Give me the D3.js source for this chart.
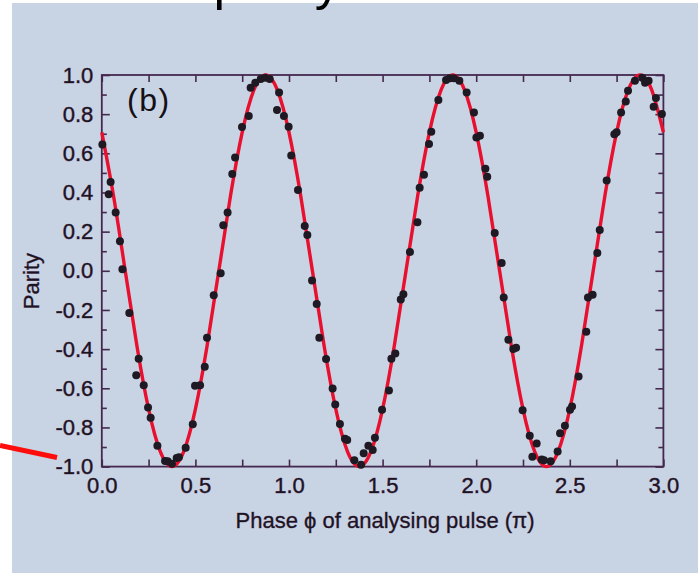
<!DOCTYPE html>
<html>
<head>
<meta charset="utf-8">
<script src="https://cdn.jsdelivr.net/npm/d3@7"></script>
<style>
  html, body { margin: 0; padding: 0; background: #ffffff; }
  svg { display: block; }
  text { font-family: "Liberation Sans", Arial, Helvetica, sans-serif; }
</style>
</head>
<body>
<svg id="chart" width="698" height="573"></svg>
<script>
// Axis ticks
const phaseTicks = [0, 0.25, 0.5, 0.75, 1, 1.25, 1.5, 1.75, 2, 2.25, 2.5, 2.75, 3];
const phaseLabelled = [0, 0.5, 1, 1.5, 2, 2.5, 3];
const parityTicks = [-1, -0.9, -0.8, -0.7, -0.6, -0.5, -0.4, -0.3, -0.2, -0.1, 0,
                     0.1, 0.2, 0.3, 0.4, 0.5, 0.6, 0.7, 0.8, 0.9, 1];
const parityLabelled = [-1, -0.8, -0.6, -0.4, -0.2, 0, 0.2, 0.4, 0.6, 0.8, 1];

// Measured parity vs. analysing-pulse phase (units of pi)
const measuredPhase = [
  0.003, 0.037, 0.047, 0.074, 0.097, 0.110, 0.147, 0.184, 0.197, 0.224,
  0.247, 0.261, 0.297, 0.338, 0.352, 0.375, 0.400, 0.412, 0.448, 0.486,
  0.498, 0.525, 0.550, 0.562, 0.598, 0.635, 0.649, 0.672, 0.697, 0.712,
  0.749, 0.785, 0.795, 0.820, 0.849, 0.872, 0.897, 0.936, 0.947, 0.973,
  0.998, 1.012, 1.048, 1.084, 1.098, 1.123, 1.148, 1.162, 1.198, 1.233,
  1.247, 1.272, 1.299, 1.311, 1.349, 1.385, 1.399, 1.424, 1.447, 1.459,
  1.497, 1.534, 1.547, 1.568, 1.597, 1.611, 1.646, 1.686, 1.698, 1.721,
  1.748, 1.760, 1.798, 1.839, 1.860, 1.881, 1.910, 1.949, 1.988, 2.001,
  2.020, 2.049, 2.059, 2.099, 2.136, 2.147, 2.172, 2.198, 2.213, 2.248,
  2.286, 2.300, 2.323, 2.350, 2.362, 2.398, 2.435, 2.448, 2.474, 2.501,
  2.512, 2.547, 2.588, 2.597, 2.622, 2.647, 2.660, 2.697, 2.738, 2.750,
  2.774, 2.799, 2.811, 2.848, 2.887, 2.902, 2.921, 2.948, 2.960, 2.992
];
const measuredParity = [
  0.645, 0.391, 0.454, 0.298, 0.151, 0.008, -0.216, -0.533, -0.449, -0.584,
  -0.698, -0.751, -0.893, -0.971, -0.973, -0.985, -0.956, -0.952, -0.904, -0.784,
  -0.587, -0.584, -0.490, -0.342, -0.125, -0.013, 0.233, 0.298, 0.495, 0.579,
  0.734, 0.790, 0.935, 0.961, 0.980, 0.986, 0.980, 0.821, 0.911, 0.790,
  0.736, 0.589, 0.413, 0.229, 0.183, -0.050, -0.170, -0.342, -0.451, -0.601,
  -0.683, -0.782, -0.858, -0.864, -0.968, -0.990, -0.932, -0.893, -0.915, -0.853,
  -0.710, -0.611, -0.449, -0.422, -0.146, -0.120, 0.096, 0.248, 0.424, 0.490,
  0.647, 0.710, 0.872, 0.974, 0.983, 0.983, 0.971, 0.910, 0.809, 0.681,
  0.690, 0.521, 0.480, 0.193, 0.040, -0.136, -0.352, -0.400, -0.393, -0.712,
  -0.843, -0.950, -0.882, -0.964, -0.968, -0.973, -0.923, -0.830, -0.792, -0.710,
  -0.693, -0.540, -0.311, -0.136, -0.122, 0.091, 0.209, 0.461, 0.698, 0.707,
  0.809, 0.865, 0.920, 0.971, 0.986, 0.961, 0.971, 0.838, 0.882, 0.801
];

// Fitted fringe, sampled every 1/16 of a period
const fitPhase = [
  0, 0.0625, 0.125, 0.1875, 0.25, 0.3125, 0.375, 0.4375, 0.5, 0.5625, 0.625, 0.6875,
  0.75, 0.8125, 0.875, 0.9375, 1, 1.0625, 1.125, 1.1875, 1.25, 1.3125, 1.375, 1.4375,
  1.5, 1.5625, 1.625, 1.6875, 1.75, 1.8125, 1.875, 1.9375, 2, 2.0625, 2.125, 2.1875,
  2.25, 2.3125, 2.375, 2.4375, 2.5, 2.5625, 2.625, 2.6875, 2.75, 2.8125, 2.875, 2.9375, 3
];
const fitParity = [
  0.707, 0.383, 0, -0.383, -0.707, -0.924, -1, -0.924, -0.707, -0.383, 0, 0.383,
  0.707, 0.924, 1, 0.924, 0.707, 0.383, 0, -0.383, -0.707, -0.924, -1, -0.924,
  -0.707, -0.383, 0, 0.383, 0.707, 0.924, 1, 0.924, 0.707, 0.383, 0, -0.383,
  -0.707, -0.924, -1, -0.924, -0.707, -0.383, 0, 0.383, 0.707, 0.924, 1, 0.924, 0.707
];

const svg = d3.select("#chart");
const W = 698, H = 573;
const axisColor = "#45284f";
const inkColor = "#1b1420";
const haloColor = "#6b3f74";

const x = d3.scaleLinear().domain([0, 3]).range([101.8, 663.4]);
const y = d3.scaleLinear().domain([-1, 1]).range([466.6, 75]);

// Panel background
svg.append("rect").attr("x", 12).attr("y", 3).attr("width", W - 12).attr("height", H - 3)
  .attr("fill", "#c8d4e4");

// Heading running above the panel
svg.append("text").attr("x", 213.5).attr("y", -1)
  .attr("font-size", 52).attr("fill", "#000")
  .text("parity");

// Pointer line from the left
svg.append("line").attr("x1", 0).attr("y1", 445.5).attr("x2", 57).attr("y2", 457.5)
  .attr("stroke", "#ff0d0d").attr("stroke-width", 5);

const fmt = d => d.toFixed(1);
const isLabelledX = d => phaseLabelled.some(v => Math.abs(v - d) < 1e-9);
const isLabelledY = d => parityLabelled.some(v => Math.abs(v - d) < 1e-9);

function styleAxis(g) {
  g.select(".domain").remove();
  g.selectAll(".tick line").attr("stroke", axisColor).attr("stroke-width", 1.6);
  g.selectAll(".tick text").attr("fill", inkColor).attr("font-size", 22)
    .attr("font-family", "'Liberation Sans', Arial, sans-serif")
    .attr("stroke", haloColor).attr("stroke-width", 0.55)
    .attr("paint-order", "stroke");
}

// Bottom axis with labels, ticks pointing inward
svg.append("g").attr("transform", `translate(0,${y(-1)})`)
  .call(d3.axisBottom(x).tickValues(phaseTicks)
    .tickFormat(d => isLabelledX(d) ? fmt(d) : "")
    .tickSizeInner(-7).tickSizeOuter(0).tickPadding(10.5))
  .call(styleAxis);

// Top axis, ticks only
svg.append("g").attr("transform", `translate(0,${y(1)})`)
  .call(d3.axisTop(x).tickValues(phaseTicks).tickFormat("")
    .tickSizeInner(-7).tickSizeOuter(0))
  .call(styleAxis);

// Left axis with labels
const leftAxis = svg.append("g").attr("transform", `translate(${x(0)},0)`)
  .call(d3.axisLeft(y).tickValues(parityTicks)
    .tickFormat(d => isLabelledY(d) ? fmt(d) : "")
    .tickSizeInner(-7).tickSizeOuter(0).tickPadding(8.5))
  .call(styleAxis);
leftAxis.selectAll(".tick line").attr("x2", d => isLabelledY(d) ? 8 : 5);

// Right axis, ticks only
const rightAxis = svg.append("g").attr("transform", `translate(${x(3)},0)`)
  .call(d3.axisRight(y).tickValues(parityTicks).tickFormat("")
    .tickSizeInner(-7).tickSizeOuter(0))
  .call(styleAxis);
rightAxis.selectAll(".tick line").attr("x2", d => isLabelledY(d) ? -8 : -5);

// Frame
svg.append("rect")
  .attr("x", x(0)).attr("y", y(1))
  .attr("width", x(3) - x(0)).attr("height", y(-1) - y(1))
  .attr("fill", "none").attr("stroke", axisColor).attr("stroke-width", 1.8);

// Fitted curve
const fitLine = d3.line()
  .x((d, i) => x(fitPhase[i]))
  .y(d => y(d))
  .curve(d3.curveNatural);
svg.append("path").datum(fitParity)
  .attr("d", fitLine)
  .attr("fill", "none").attr("stroke", "#e8102e").attr("stroke-width", 3.4)
  .attr("stroke-linejoin", "round");

// Measured points
svg.append("g").selectAll("circle")
  .data(measuredPhase.map((p, i) => ({ p, v: measuredParity[i] })))
  .join("circle")
  .attr("cx", d => x(d.p)).attr("cy", d => y(d.v)).attr("r", 4)
  .attr("fill", "#1e1922");

// Panel label
svg.append("text").attr("x", 127).attr("y", 111)
  .attr("font-size", 32).attr("fill", "#161016").attr("letter-spacing", 1.5)
  .text("(b)");

// Axis titles
svg.append("text")
  .attr("x", (x(0) + x(3)) / 2 + 2.5).attr("y", 528)
  .attr("text-anchor", "middle").attr("font-size", 22).attr("fill", inkColor)
  .attr("stroke", haloColor).attr("stroke-width", 0.45).attr("paint-order", "stroke")
  .text("Phase \u03d5 of analysing pulse (\u03c0)");

svg.append("text")
  .attr("transform", `translate(39,281) rotate(-90)`)
  .attr("text-anchor", "middle").attr("font-size", 22).attr("fill", inkColor)
  .attr("stroke", haloColor).attr("stroke-width", 0.45).attr("paint-order", "stroke")
  .text("Parity");
</script>
</body>
</html>
